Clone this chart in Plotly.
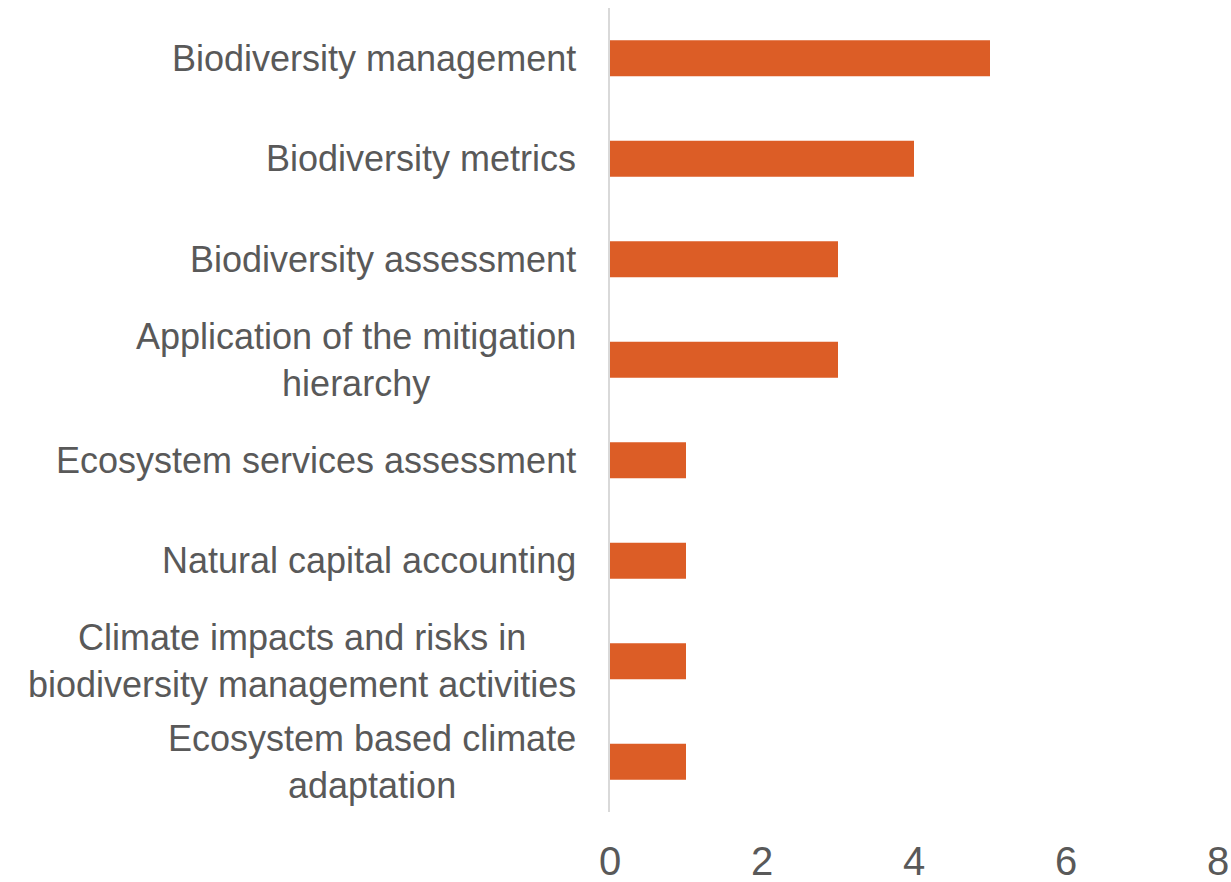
import plotly.graph_objects as go

categories = [
    'Biodiversity management',
    'Biodiversity metrics',
    'Biodiversity assessment',
    'Application of the mitigation<br>hierarchy',
    'Ecosystem services assessment',
    'Natural capital accounting',
    'Climate impacts and risks in<br>biodiversity management activities',
    'Ecosystem based climate<br>adaptation',
]
counts = [5, 4, 3, 3, 1, 1, 1, 1]
x_ticks = [0, 2, 4, 6, 8]

TEXT_COLOR = '#595959'
BAR_COLOR = '#DC5D26'
FONT = 'Liberation Sans, Arial, sans-serif'

fig = go.Figure()
fig.add_trace(go.Bar(
    y=categories, x=counts, orientation='h',
    marker=dict(color=BAR_COLOR, line=dict(width=0)),
    width=0.36, showlegend=False, hoverinfo='x+y',
))

# category labels as annotations so multi-line text is centred like the original
for cat in categories:
    fig.add_annotation(
        x=0, xref='paper', y=cat, yref='y',
        text=cat, showarrow=False, xanchor='right', yanchor='middle',
        align='center', xshift=-32,
        font=dict(family=FONT, size=36, color=TEXT_COLOR),
    )

fig.update_layout(
    width=1231, height=882,
    margin=dict(l=610, r=13, t=8, b=70),
    plot_bgcolor='white', paper_bgcolor='white',
    font=dict(family=FONT, color=TEXT_COLOR),
    xaxis=dict(
        range=[0, 8], tickvals=x_ticks, showgrid=False, zeroline=False,
        showline=False, ticks='', tickfont=dict(size=40, color=TEXT_COLOR),
        ticklabelstandoff=22, automargin=False,
    ),
    yaxis=dict(
        autorange='reversed', showticklabels=False, showgrid=False,
        zeroline=False, showline=True, linecolor='#D9D9D9', linewidth=1.5,
        ticks='', automargin=False,
    ),
)

# drop the page's default body margin so the figure fills the window exactly
fig.write_html("out.html", config={'displayModeBar': False},
               post_script="document.body.style.margin='0';"
                           "document.body.style.overflow='hidden';")
